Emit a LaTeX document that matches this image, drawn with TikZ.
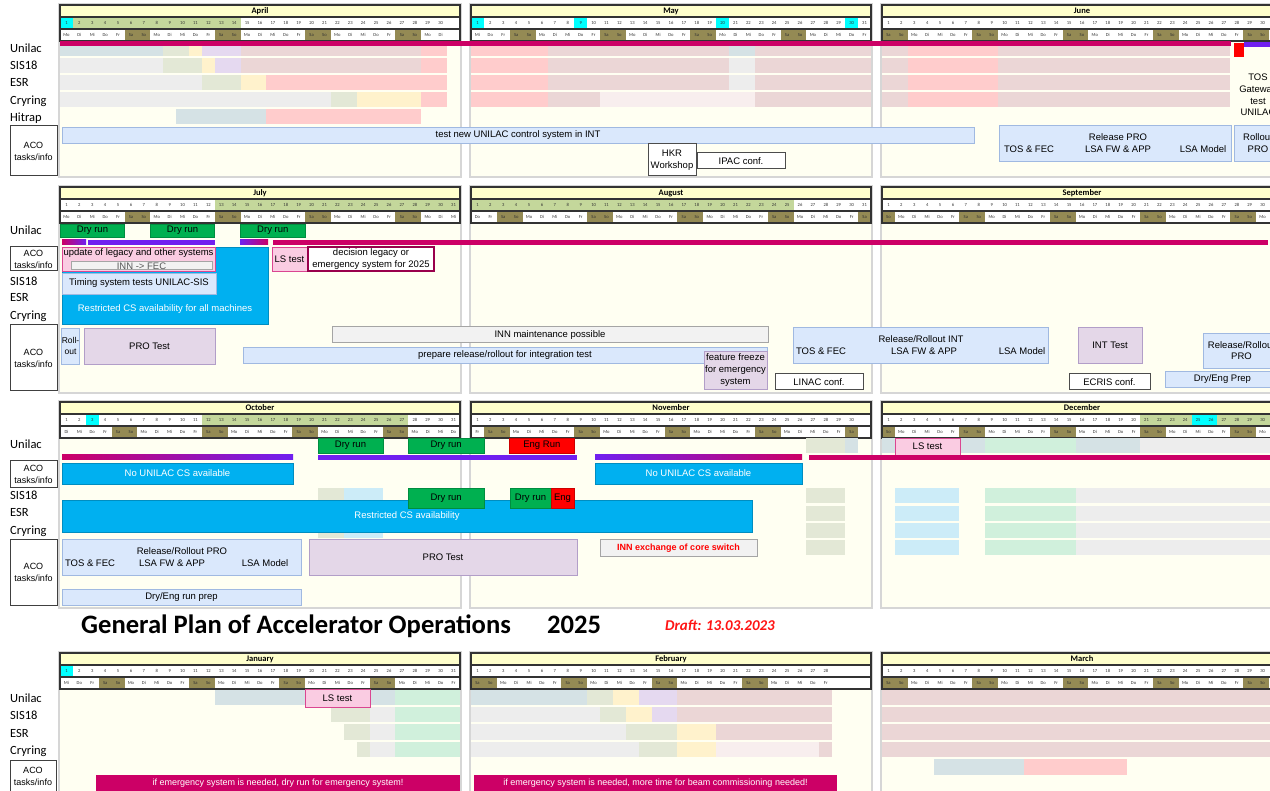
\documentclass[tikz,border=0pt]{standalone}
\usepackage{fontspec}
\setmainfont{Carlito}
\newfontfamily\arial{Liberation Sans}

\definecolor{panelbg}{RGB}{255,255,242}
\definecolor{panelline}{RGB}{214,214,214}
\definecolor{hdyellow}{RGB}{255,255,204}
\definecolor{holgreen}{RGB}{196,215,155}
\definecolor{daycyan}{RGB}{0,255,255}
\definecolor{wkend}{RGB}{148,138,84}
\definecolor{magline}{RGB}{204,0,102}
\definecolor{vioLine}{RGB}{112,32,240}
\definecolor{dryg}{RGB}{0,176,80}
\definecolor{engred}{RGB}{255,0,0}
\definecolor{csblue}{RGB}{0,176,240}
\definecolor{taskblue}{RGB}{218,232,252}
\definecolor{taskblueline}{RGB}{160,185,225}
\definecolor{protest}{RGB}{228,215,232}
\definecolor{protestline}{RGB}{178,158,200}
\definecolor{lspink}{RGB}{250,204,226}
\definecolor{lsline}{RGB}{218,70,145}
\definecolor{decline}{RGB}{153,0,76}
\definecolor{innfill}{RGB}{242,242,242}
\definecolor{innline}{RGB}{165,165,165}
\definecolor{draftred}{RGB}{255,20,20}
\definecolor{cBlueGray}{RGB}{213,226,229}
\definecolor{cGreenGray}{RGB}{227,232,214}
\definecolor{cYellow}{RGB}{255,242,204}
\definecolor{cLav}{RGB}{229,217,240}
\definecolor{cDusty}{RGB}{235,214,214}
\definecolor{cPink}{RGB}{255,204,204}
\definecolor{cGray}{RGB}{237,237,237}
\definecolor{cPale}{RGB}{248,238,238}
\definecolor{cMint}{RGB}{208,240,220}
\definecolor{cSky}{RGB}{204,236,248}

\def\daywd{12.903}
\newcommand{\wkdname}[1]{\ifcase#1 Mo\or Di\or Mi\or Do\or Fr\or Sa\or So\fi}

\tikzset{
  boxtext/.style={font=\arial\fontsize{9.5}{11.6}\selectfont, align=center, inner sep=0pt},
  tbase/.style={boxtext, rectangle, line width=0.8pt},
  bluetask/.style={tbase, fill=taskblue, draw=taskblueline},
  protask/.style={tbase, fill=protest, draw=protestline},
  lsbox/.style={tbase, fill=lspink, draw=lsline},
  decbox/.style={tbase, fill=white, draw=decline, line width=1.6pt},
  confbox/.style={tbase, fill=white, draw=black!70, line width=1pt},
  innbox/.style={tbase, fill=innfill, draw=innline, line width=1pt},
  csbox/.style={tbase, fill=csblue, draw=csblue!80!black, text=white},
  drybox/.style={tbase, fill=dryg, draw=dryg!80!black},
  engbox/.style={tbase, fill=engred, draw=engred!80!black},
  banner/.style={tbase, fill=magline, draw=none, text=white, font=\arial\fontsize{9}{11}\selectfont},
  acobox/.style={tbase, fill=white, draw=black!75, line width=1pt, font=\arial\fontsize{9}{12}\selectfont},
  rowlabel/.style={font=\fontsize{12.5}{14}\selectfont, anchor=base west, inner sep=0pt},
  panelbox/.style={fill=panelbg, draw=panelline, line width=1.5pt},
  headframe/.style={draw=black!80, line width=1.2pt},
  daytext/.style={font=\fontsize{4.6}{5}\selectfont, inner sep=0pt, text=black!80},
  monthtext/.style={font=\bfseries\fontsize{8.5}{9}\selectfont, inner sep=0pt},
}

% x0, y0, month, days, first weekday (0 = Mo), holidays, special days
\newcommand{\monthhead}[7]{%
\begin{scope}[shift={(#1,#2)}]
\fill[hdyellow] (0,0) rectangle (400,12);
\fill[white] (0,12) rectangle (400,36);
\foreach \dy in {#6} {\ifnum\dy>0 \fill[holgreen] ({(\dy-1)*\daywd},12) rectangle ({\dy*\daywd},24);\fi}
\foreach \dy in {#7} {\ifnum\dy>0 \fill[daycyan] ({(\dy-1)*\daywd},12) rectangle ({\dy*\daywd},24);\fi}
\foreach \dy in {1,...,#4} {
  \pgfmathtruncatemacro{\wkd}{mod(#5+\dy-1,7)}
  \pgfmathtruncatemacro{\onpage}{#1+(\dy-0.5)*\daywd<1266 ? 1 : 0}
  \ifnum\wkd>4 \fill[wkend] ({(\dy-1)*\daywd},24) rectangle ({\dy*\daywd},36);\fi
  \ifnum\onpage=1
    \node[daytext] (#3-d\dy) at ({(\dy-0.5)*\daywd},18) {\dy};
    \node[daytext] (#3-w\dy) at ({(\dy-0.5)*\daywd},30) {\wkdname{\wkd}};
  \fi
}
\draw[headframe] (0,0) rectangle (400,12);
\draw[headframe] (0,12) rectangle (400,24);
\draw[headframe] (0,24) rectangle (400,36);
\node[monthtext] (#3) at (200,6) {#3};
\end{scope}}

% style, name, left, top, right, bottom, text
\newcommand{\taskbox}[7]{\node[#1, minimum width={(#5-#3)*1pt}, minimum height={(#6-#4)*1pt}] (#2) at ({(#3+#5)/2},{(#4+#6)/2}) {#7};}

\begin{document}
\begin{tikzpicture}[x=1pt, y=-1pt]
\useasboundingbox (0,0) rectangle (1270,791);
\fill[white] (0,0) rectangle (1270,791);

% panels
\foreach \ya/\yb in {4/177, 186/393, 401/608, 652/800}
  \foreach \xa in {59, 470, 881}
    \draw[panelbox] (\xa,\ya) rectangle ({\xa+402},\yb);

% month headers
\monthhead{60}{5}{April}{30}{0}{2,...,14}{1}
\monthhead{471}{5}{May}{31}{2}{0}{1,9,20,30}
\monthhead{882}{5}{June}{30}{5}{0}{0}
\monthhead{60}{187}{July}{31}{0}{13,...,31}{0}
\monthhead{471}{187}{August}{31}{3}{1,...,25}{0}
\monthhead{882}{187}{September}{30}{6}{0}{0}
\monthhead{60}{402}{October}{31}{1}{12,...,27}{3}
\monthhead{471}{402}{November}{30}{4}{0}{0}
\monthhead{882}{402}{December}{31}{6}{21,...,31}{25,26}
\monthhead{60}{653}{January}{31}{2}{0}{1}
\monthhead{471}{653}{February}{28}{5}{0}{0}
\monthhead{882}{653}{March}{31}{5}{0}{0}

% row labels
\node[rowlabel] (lU1) at (10,53) {Unilac};
\node[rowlabel] (lS1) at (10,70) {SIS18};
\node[rowlabel] (lE1) at (10,87) {ESR};
\node[rowlabel] (lC1) at (10,105) {Cryring};
\node[rowlabel] (lH1) at (10,122) {Hitrap};
\node[rowlabel] (lU2) at (10,235) {Unilac};
\node[rowlabel] (lS2) at (10,286) {SIS18};
\node[rowlabel] (lE2) at (10,302) {ESR};
\node[rowlabel] (lC2) at (10,320) {Cryring};
\node[rowlabel] (lU3) at (10,449) {Unilac};
\node[rowlabel] (lS3) at (10,500) {SIS18};
\node[rowlabel] (lE3) at (10,517) {ESR};
\node[rowlabel] (lC3) at (10,535) {Cryring};
\node[rowlabel] (lU4) at (10,702) {Unilac};
\node[rowlabel] (lS4) at (10,719) {SIS18};
\node[rowlabel] (lE4) at (10,737) {ESR};
\node[rowlabel] (lC4) at (10,754) {Cryring};

\taskbox{acobox}{aco1}{10}{126}{57}{176}{ACO\\tasks/info}
\taskbox{acobox}{aco2a}{10}{247}{57}{271}{ACO\\tasks/info}
\taskbox{acobox}{aco2b}{10}{325}{57}{391}{ACO\\tasks/info}
\taskbox{acobox}{aco3a}{10}{461}{57}{488}{ACO\\tasks/info}
\taskbox{acobox}{aco3b}{10}{540}{57}{605}{ACO\\tasks/info}
\taskbox{acobox}{aco4}{10}{760}{56}{792}{ACO\\tasks/info}

% April .. June
\begin{scope}[xshift=60pt, x=12.903pt]
\fill[cBlueGray] (0,41) rectangle (8,56);
\fill[cGreenGray] (8,41) rectangle (10,56);
\fill[cYellow] (10,41) rectangle (11,56);
\fill[cLav] (11,41) rectangle (14,56);
\fill[cDusty] (14,41) rectangle (28,56);
\fill[cPink] (28,41) rectangle (30,56);
\fill[cGray] (0,58) rectangle (8,73);
\fill[cGreenGray] (8,58) rectangle (11,73);
\fill[cYellow] (11,58) rectangle (12,73);
\fill[cLav] (12,58) rectangle (14,73);
\fill[cDusty] (14,58) rectangle (28,73);
\fill[cPink] (28,58) rectangle (30,73);
\fill[cGray] (0,75) rectangle (11,90);
\fill[cGreenGray] (11,75) rectangle (14,90);
\fill[cYellow] (14,75) rectangle (16,90);
\fill[cPink] (16,75) rectangle (30,90);
\fill[cGray] (0,92) rectangle (21,107);
\fill[cGreenGray] (21,92) rectangle (23,107);
\fill[cYellow] (23,92) rectangle (28,107);
\fill[cPink] (28,92) rectangle (30,107);
\fill[cBlueGray] (9,109) rectangle (16,124);
\fill[cPink] (16,109) rectangle (28,124);
\end{scope}
\begin{scope}[xshift=471pt, x=12.903pt]
\foreach \ya/\yb in {41/56, 58/73, 75/90, 92/107} {
  \fill[cPink] (0,\ya) rectangle (6,\yb);
  \fill[cDusty] (6,\ya) rectangle (31,\yb);
}
\fill[cBlueGray] (20,41) rectangle (22,56);
\fill[cGray] (20,58) rectangle (22,73);
\fill[cGray] (20,75) rectangle (22,90);
\fill[cPale] (10,92) rectangle (22,107);
\end{scope}
\begin{scope}[xshift=882pt, x=12.903pt]
\foreach \ya/\yb in {41/56, 58/73, 75/90, 92/107} {
  \fill[cDusty] (0,\ya) rectangle (2,\yb);
  \fill[cPink] (2,\ya) rectangle (9,\yb);
  \fill[cDusty] (9,\ya) rectangle (27,\yb);
}
\end{scope}
\fill[magline] (60,41) rectangle (1231,46);
\fill[engred] (1234,43) rectangle (1244,57);
\fill[vioLine] (1244,42) rectangle (1272,47);
\node[boxtext] (tosgw) at (1258,95) {TOS\\Gateway\\test\\UNILAC};

\taskbox{bluetask}{unilacINT}{62}{127}{974}{143}{test new UNILAC control system in INT}
\taskbox{confbox}{hkr}{648}{144}{696}{176}{HKR\\Workshop}
\taskbox{confbox}{ipac}{697}{153}{785}{169}{IPAC conf.}
\taskbox{bluetask}{relPRO}{999}{125}{1231}{161}{}
\node[boxtext] (relPROt) at (1118,137) {Release PRO};
\node[boxtext] (relPROa) at (1029,149) {TOS \& FEC};
\node[boxtext] (relPROb) at (1118,149) {LSA FW \& APP};
\node[boxtext] (relPROc) at (1203,149) {LSA Model};
\taskbox{bluetask}{rollPRO}{1234}{125}{1282}{161}{Rollout\\PRO}

% July .. September
\taskbox{drybox}{dry1}{60.5}{224}{124.5}{237}{Dry run}
\taskbox{drybox}{dry2}{150.3}{224}{214.8}{237}{Dry run}
\taskbox{drybox}{dry3}{240.6}{224}{305}{237}{Dry run}
\shade[left color=magline, right color=vioLine] (62,240) rectangle (86,245);
\fill[vioLine] (88,240) rectangle (215,245);
\shade[left color=vioLine, right color=magline] (240,240) rectangle (268,245);
\fill[magline] (273,240) rectangle (1268,245);

\taskbox{csbox}{csall}{62}{247}{268}{324}{}
\node[boxtext, text=white] (csallt) at (165,309) {Restricted CS availability for all machines};
\taskbox{lsbox}{legacy}{62}{247}{215}{271}{}
\node[boxtext] (legacyt) at (138.5,253) {update of legacy and other systems};
\taskbox{innbox, text=black!65}{innfec}{71}{262}{212}{270}{INN -> FEC}
\taskbox{bluetask}{timing}{62}{273}{216}{294}{Timing system tests UNILAC-SIS}
\taskbox{lsbox}{lstest1}{272}{247}{307}{271}{LS test}
\taskbox{decbox}{decision}{308}{247}{434}{271}{decision legacy or\\emergency system for 2025}

\taskbox{bluetask, font=\arial\fontsize{8.5}{11}\selectfont}{rollout}{62}{328}{79}{364}{Roll-\\out}
\taskbox{protask}{protest1}{84}{328}{215}{364}{PRO Test}
\taskbox{innbox}{innmaint}{332}{327}{768}{343}{INN maintenance possible}
\taskbox{bluetask}{prepare}{243}{347}{767}{363}{prepare release/rollout for integration test}
\taskbox{protask}{freeze}{704}{351}{767}{389}{feature freeze\\for emergency\\system}
\taskbox{confbox}{linac}{775}{374}{863}{390}{LINAC conf.}
\taskbox{bluetask}{relINT}{793}{327}{1048}{363}{}
\node[boxtext] (relINTt) at (921,339) {Release/Rollout INT};
\node[boxtext] (relINTa) at (821,351) {TOS \& FEC};
\node[boxtext] (relINTb) at (924,351) {LSA FW \& APP};
\node[boxtext] (relINTc) at (1022,351) {LSA Model};
\taskbox{protask}{inttest}{1078}{327}{1142}{363}{INT Test}
\taskbox{confbox}{ecris}{1069}{374}{1150}{390}{ECRIS conf.}
\taskbox{bluetask}{relPRO2}{1203}{333}{1280}{368}{Release/Rollout\\PRO}
\taskbox{bluetask}{dryeng}{1165}{371}{1280}{387}{Dry/Eng Prep}

% October .. December
\begin{scope}[xshift=60pt, x=12.903pt]
\foreach \ya/\yb in {488/503, 506/521, 523/538, 540/555} {
  \fill[cGreenGray] (20,\ya) rectangle (22,\yb);
  \fill[cSky] (22,\ya) rectangle (25,\yb);
}
\end{scope}
\begin{scope}[xshift=471pt, x=12.903pt]
\fill[cGreenGray] (26,438) rectangle (29,453);
\fill[cBlueGray] (29,438) rectangle (30,453);
\foreach \ya/\yb in {488/503, 506/521, 523/538, 540/555}
  \fill[cGreenGray] (26,\ya) rectangle (29,\yb);
\end{scope}
\begin{scope}[xshift=882pt, x=12.903pt]
\fill[cBlueGray] (0,438) rectangle (8,453);
\fill[cMint] (8,438) rectangle (15,453);
\fill[cBlueGray] (15,438) rectangle (20,453);
\fill[cGray] (20,438) rectangle (31,453);
\foreach \ya/\yb in {488/503, 506/521, 523/538, 540/555} {
  \fill[cSky] (1,\ya) rectangle (6,\yb);
  \fill[cMint] (8,\ya) rectangle (15,\yb);
  \fill[cGray] (15,\ya) rectangle (31,\yb);
}
\end{scope}

\taskbox{drybox}{dry4}{318}{438}{383}{453}{Dry run}
\taskbox{drybox}{dry5}{408.4}{438}{484}{453}{Dry run}
\taskbox{engbox}{eng1}{509.7}{438}{574}{453}{Eng Run}
\taskbox{lsbox}{lstest2}{895}{438}{960}{455}{LS test}
\shade[left color=magline, right color=vioLine] (62,455) rectangle (293,460);
\fill[vioLine] (318,455) rectangle (577,460);
\shade[left color=vioLine, right color=magline] (595,455) rectangle (802,460);
\fill[magline] (809,455) rectangle (1272,460);

\taskbox{csbox}{nocs1}{62}{463}{293}{484}{No UNILAC CS available}
\taskbox{csbox}{nocs2}{595}{463}{802}{484}{No UNILAC CS available}
\taskbox{csbox}{csrestr}{62}{500}{752}{532}{Restricted CS availability}
\taskbox{drybox}{dry6}{408.4}{488}{484}{508}{Dry run}
\taskbox{drybox}{dry7}{510}{488}{551}{508}{Dry run}
\taskbox{engbox}{eng2}{551}{488}{574}{508}{Eng}

\taskbox{bluetask}{relPRO3}{62}{539}{301}{575}{}
\node[boxtext] (relPRO3t) at (182,551) {Release/Rollout PRO};
\node[boxtext] (relPRO3a) at (90,563) {TOS \& FEC};
\node[boxtext] (relPRO3b) at (172,563) {LSA FW \& APP};
\node[boxtext] (relPRO3c) at (265,563) {LSA Model};
\taskbox{protask}{protest2}{309}{539}{577}{575}{PRO Test}
\taskbox{innbox, text=engred, font=\arial\bfseries\fontsize{9}{11}\selectfont}{innswitch}{600}{540}{757}{556}{INN exchange of core switch}
\taskbox{bluetask}{dryprep}{62}{589}{301}{605}{Dry/Eng run prep}

% title
\node[anchor=base west, inner sep=0pt, font=\bfseries\fontsize{26.6}{30}\selectfont] (title) at (81,633) {General Plan of Accelerator Operations};
\node[anchor=base west, inner sep=0pt, font=\bfseries\fontsize{26.6}{30}\selectfont] (year) at (547,633) {2025};
\node[anchor=base west, inner sep=0pt, font=\bfseries\itshape\fontsize{15}{17}\selectfont, text=draftred] (draft) at (665,630) {Draft: 13.03.2023};

% January .. March
\begin{scope}[xshift=60pt, x=12.903pt]
\fill[cBlueGray] (12,690) rectangle (26,705);
\fill[cMint] (26,690) rectangle (31,705);
\fill[cGreenGray] (21,707) rectangle (24,722);
\fill[cGreenGray] (22,724) rectangle (24,740);
\fill[cGreenGray] (23,742) rectangle (24,757);
\foreach \ya/\yb in {707/722, 724/740, 742/757} {
  \fill[cGray] (24,\ya) rectangle (26,\yb);
  \fill[cMint] (26,\ya) rectangle (31,\yb);
}
\end{scope}
\begin{scope}[xshift=471pt, x=12.903pt]
\fill[cBlueGray] (0,690) rectangle (9,705);
\fill[cGreenGray] (9,690) rectangle (11,705);
\fill[cYellow] (11,690) rectangle (13,705);
\fill[cLav] (13,690) rectangle (16,705);
\fill[cDusty] (16,690) rectangle (28,705);
\fill[cGray] (0,707) rectangle (10,722);
\fill[cGreenGray] (10,707) rectangle (12,722);
\fill[cYellow] (12,707) rectangle (14,722);
\fill[cLav] (14,707) rectangle (16,722);
\fill[cDusty] (16,707) rectangle (28,722);
\fill[cGray] (0,724) rectangle (12,740);
\fill[cGreenGray] (12,724) rectangle (16,740);
\fill[cYellow] (16,724) rectangle (19,740);
\fill[cDusty] (19,724) rectangle (28,740);
\fill[cGray] (0,742) rectangle (13,757);
\fill[cGreenGray] (13,742) rectangle (16,757);
\fill[cYellow] (16,742) rectangle (19,757);
\fill[cPale] (19,742) rectangle (27,757);
\fill[cDusty] (27,742) rectangle (28,757);
\end{scope}
\begin{scope}[xshift=882pt, x=12.903pt]
\foreach \ya/\yb in {690/705, 707/722, 724/740, 742/757}
  \fill[cDusty] (0,\ya) rectangle (31,\yb);
\fill[cBlueGray] (4,759) rectangle (11,775);
\fill[cPink] (11,759) rectangle (19,775);
\end{scope}

\taskbox{lsbox}{lstest3}{305}{689}{370}{707}{LS test}
\taskbox{banner}{emgdry}{96}{775}{460}{791}{if emergency system is needed, dry run for emergency system!}
\taskbox{banner}{emgtime}{474}{775}{837}{791}{if emergency system is needed, more time for beam commissioning needed!}
\end{tikzpicture}
\end{document}
